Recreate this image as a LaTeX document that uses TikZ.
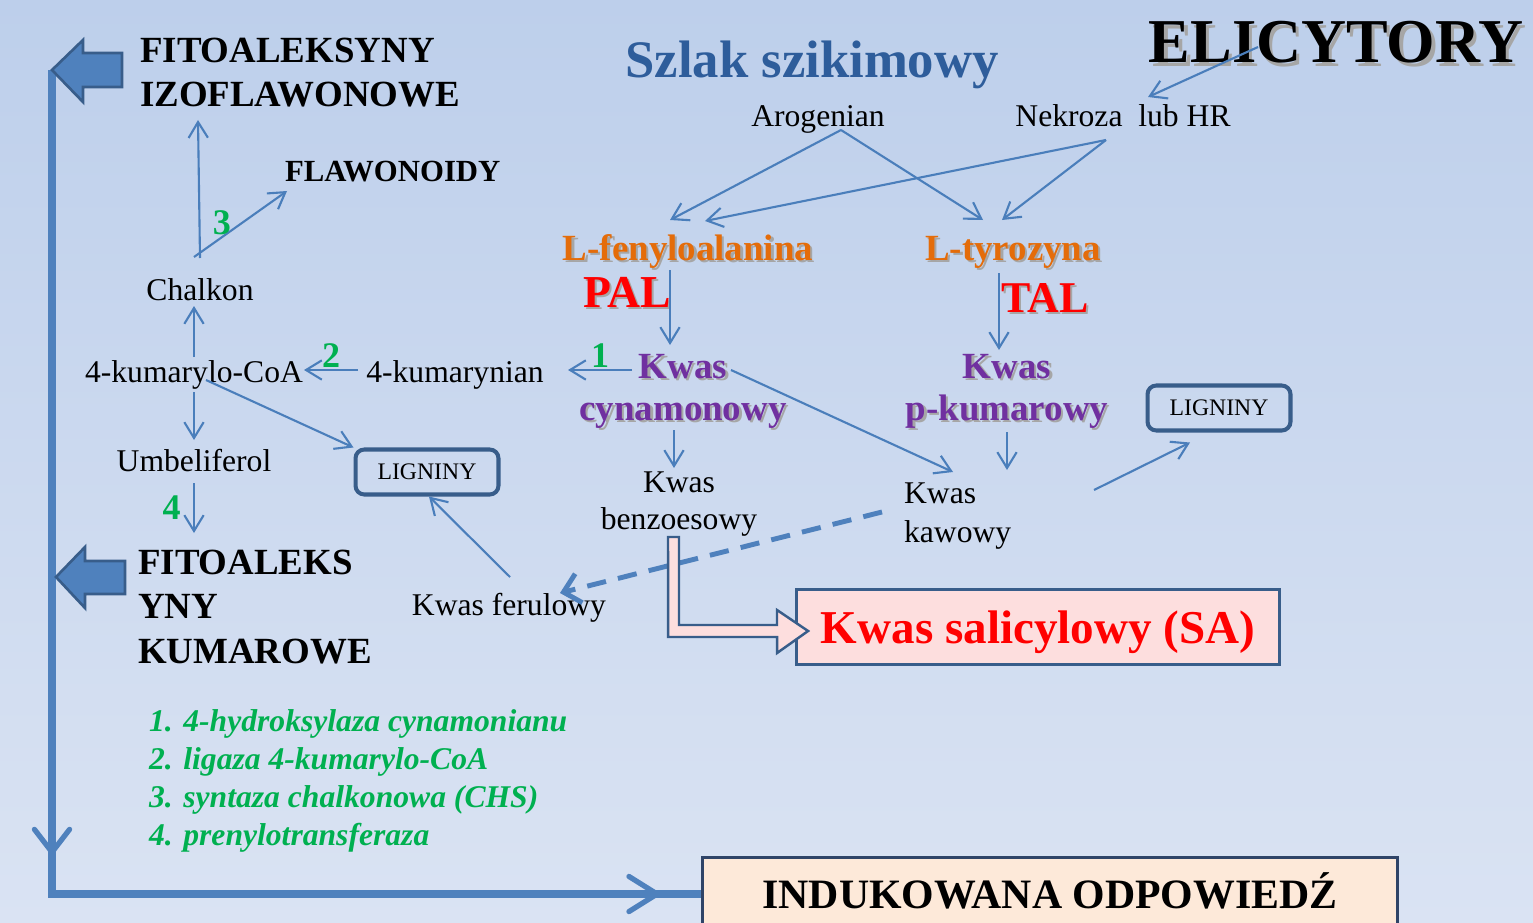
\documentclass[tikz,border=0pt]{standalone}
\usepackage{fontspec}
\setmainfont{Liberation Serif}
\usetikzlibrary{arrows.meta,decorations.markings}

\definecolor{linkblue}{RGB}{74,126,187}
\definecolor{barblue}{RGB}{79,129,189}
\definecolor{edgeblue}{RGB}{56,93,138}
\definecolor{deepnavy}{RGB}{47,68,104}
\definecolor{titleblue}{RGB}{46,93,155}
\definecolor{enzgreen}{RGB}{0,176,80}
\definecolor{aminoorange}{RGB}{228,108,10}
\definecolor{acidpurple}{RGB}{112,48,160}
\definecolor{sapink}{RGB}{253,222,222}
\definecolor{respeach}{RGB}{253,233,217}
\definecolor{bgtop}{RGB}{189,207,235}
\definecolor{bgbottom}{RGB}{218,227,243}

\newcommand\shtxt[2][1.3pt]{\leavevmode\rlap{\kern#1\raisebox{-#1}{\textcolor{black!35}{#2}}}#2}

\begin{document}
\begin{tikzpicture}[x=0.02cm, y=-0.02cm,
	conn/.style={draw=linkblue, line width=1.2pt, -{Straight Barb[length=9pt,width=11pt]}},
	dashconn/.style={draw=barblue, line width=2.8pt, dash pattern=on 11pt off 7pt, -{Straight Barb[length=9pt,width=17pt]}},
	bigline/.style={draw=barblue, line width=4.6pt,
		decoration={markings,
			mark=at position 15.7cm with {\arrow{Straight Barb[length=13pt,width=20pt,line width=3pt,round]}},
			mark=at position 28.64cm with {\arrow{Straight Barb[length=16pt,width=20pt,line width=3pt,round]}}},
		postaction={decorate}},
	blockarr/.style={fill=barblue, draw=edgeblue, line width=1.5pt},
	hollow/.style={fill=sapink, draw=edgeblue, line width=1.4pt},
	txt/.style={font=\fontsize{18}{21}\selectfont, inner sep=1pt},
	heavy/.style={font=\bfseries\fontsize{21}{25.2}\selectfont, inner sep=1pt},
	enzyme/.style={text=enzgreen, font=\bfseries\fontsize{20.5}{22}\selectfont, inner sep=1pt},
	amino/.style={text=aminoorange, font=\bfseries\fontsize{21}{25}\selectfont, inner sep=1pt},
	acid/.style={text=acidpurple, font=\bfseries\fontsize{21}{23.8}\selectfont, align=center, inner sep=1pt},
	ligbox/.style={draw=edgeblue, line width=2.3pt, rounded corners=5pt, minimum width=2.86cm, minimum height=0.9cm, font=\fontsize{13.5}{16}\selectfont},
	enzlist/.style={text=enzgreen, font=\bfseries\itshape\fontsize{18}{21.5}\selectfont, inner sep=1pt}]

	\useasboundingbox (0,0) rectangle (1533,922);
	\shade[top color=bgtop, bottom color=bgbottom] (0,0) rectangle (1533,922);

	% lewa kolumna
	\node[heavy, anchor=base west, align=left] (izo) at (138,107) {FITOALEKSYNY\\IZOFLAWONOWE};
	\node[heavy, font=\bfseries\fontsize{17.5}{21}\selectfont, anchor=base west] (flav) at (283,182) {FLAWONOIDY};
	\node[txt, anchor=base] (chalk) at (200,300) {Chalkon};
	\node[txt, anchor=base] (coa) at (194,382) {4-kumarylo-CoA};
	\node[txt, anchor=base] (kumn) at (455,382) {4-kumarynian};
	\node[txt, anchor=base] (umb) at (194,471) {Umbeliferol};
	\node[heavy, anchor=base west, align=left] (kum) at (136,663) {FITOALEKS\\YNY\\KUMAROWE};
	\node[ligbox] (lig1) at (427,472) {LIGNINY};
	\node[txt, anchor=base] (fer) at (509,615) {Kwas ferulowy};

	% szlak szikimowy
	\node[anchor=base, text=titleblue, font=\bfseries\fontsize{30}{36}\selectfont] (szlak) at (812,78) {Szlak szikimowy};
	\node[anchor=base, font=\bfseries\fontsize{35.5}{40}\selectfont] (elic) at (1336,63) {\shtxt[2pt]{ELICYTORY}};
	\node[txt, anchor=base] (arog) at (818,127) {Arogenian};
	\node[txt, anchor=base] (nek) at (1123,127) {Nekroza\ \ lub HR};
	\node[amino, anchor=base] (lfen) at (688,260) {\shtxt{L-fenyloalanina}};
	\node[amino, anchor=base] (ltyr) at (1013,260) {\shtxt{L-tyrozyna}};
	\node[anchor=base, text=red, font=\bfseries\fontsize{26}{30}\selectfont] (pal) at (627,307) {\shtxt{PAL}};
	\node[anchor=base, text=red, font=\bfseries\fontsize{25}{30}\selectfont] (tal) at (1045,312) {\shtxt{TAL}};
	\node[acid, anchor=base] (cyn) at (683,420) {\shtxt{Kwas}\\\shtxt{cynamonowy}};
	\node[acid, anchor=base] (pkum) at (1007,420) {\shtxt{Kwas}\\\shtxt{p-kumarowy}};
	\node[txt, anchor=base, align=center] (benz) at (679,529) {Kwas\\benzoesowy};
	\node[txt, font=\fontsize{18}{22}\selectfont, anchor=base west, align=left] (kaw) at (902,542) {Kwas\\kawowy};
	\node[ligbox] (lig2) at (1219,408) {LIGNINY};
	\node[draw=edgeblue, line width=1.7pt, fill=sapink, minimum width=9.66cm, minimum height=1.5cm, text depth=0pt,
		text=red, font=\bfseries\fontsize{26.8}{30}\selectfont] (sa) at (1038,627) {Kwas salicylowy (SA)};
	\node[draw=deepnavy, line width=1.7pt, fill=respeach, minimum width=13.9cm, minimum height=1.48cm, text height=16pt, text depth=0pt,
		font=\bfseries\fontsize{23.8}{28}\selectfont] (ind) at (1050,894) {INDUKOWANA ODPOWIEDŹ};

	\node[enzlist, anchor=base west, align=left] (enz) at (147,845)
		{1. 4-hydroksylaza cynamonianu\\2. ligaza 4-kumarylo-CoA\\3. syntaza chalkonowa (CHS)\\4. prenylotransferaza};

	% duza strzalka
	\coordinate (top) at (52,70);
	\coordinate (corner) at (52,894);
	\coordinate (mid) at (56,577);
	\draw[bigline] (top) -- (corner) -- (ind.west);
	\draw[blockarr] (top) -- ++(31,-30) -- ++(0,13) -- ++(39,0) -- ++(0,34) -- ++(-39,0) -- ++(0,15) -- cycle;
	\draw[blockarr] (mid) -- ++(29,-30) -- ++(0,14) -- ++(40,0) -- ++(0,33) -- ++(-40,0) -- ++(0,14) -- cycle;

	% polaczenia
	\draw[conn] ([shift={(0,-42)}]chalk.base) -- ([shift={(60,13)}]izo.base west);
	\draw[conn] ([shift={(-6,-43)}]chalk.base) -- node[enzyme, pos=0.3, above] (e3) {3} ([shift={(4,9)}]flav.base west);
	\draw[conn] ([shift={(0,-25)}]coa.base) -- ([shift={(-6,6)}]chalk.base);
	\draw[conn] ([shift={(0,10)}]coa.base) -- ([shift={(0,-31)}]umb.base);
	\draw[conn] ([shift={(12,-2)}]coa.base) -- (lig1.north west);
	\draw[conn] ([shift={(-97,-12)}]kumn.base) -- node[enzyme, above] (e2) {2} ([shift={(110,-12)}]coa.base);
	\draw[conn] ([shift={(0,12)}]umb.base) -- node[enzyme, left=6pt] (e4) {4} ([shift={(58,-130)}]kum.base west);
	\draw[conn] ([shift={(1,-38)}]fer.base) -- ([shift={(2,0)}]lig1.south);
	\draw[conn] ([shift={(-51,-50)}]cyn.base) -- node[enzyme, above] (e1) {1} ([shift={(113,-12)}]kumn.base);
	\draw[conn] ([shift={(48,-50)}]cyn.base) -- ([shift={(51,-70)}]kaw.base west);
	\draw[conn] ([shift={(-9,10)}]cyn.base) -- ([shift={(-5,-61)}]benz.base);
	\draw[conn] ([shift={(0,12)}]pkum.base) -- ([shift={(105,-72)}]kaw.base west);
	\draw[conn] ([shift={(192,-52)}]kaw.base west) -- ([shift={(-29,10)}]lig2.south);
	\draw[dashconn] ([shift={(-20,-30)}]kaw.base west) -- ([shift={(51,-22)}]fer.base);
	\draw[conn] ([shift={(23,3)}]arog.base) -- ([shift={(-18,-40)}]lfen.base);
	\draw[conn] ([shift={(23,3)}]arog.base) -- ([shift={(-30,-40)}]ltyr.base);
	\draw[conn] ([shift={(-17,13)}]nek.base) -- ([shift={(17,-39)}]lfen.base);
	\draw[conn] ([shift={(-17,13)}]nek.base) -- ([shift={(-11,-40)}]ltyr.base);
	\draw[conn] ([shift={(-78,-16)}]elic.base) -- ([shift={(25,-30)}]nek.base);
	\draw[conn] ([shift={(-18,10)}]lfen.base) -- ([shift={(-13,-75)}]cyn.base);
	\draw[conn] ([shift={(-14,13)}]ltyr.base) -- ([shift={(-8,-70)}]pkum.base);
	\draw[hollow] ([shift={(-11,8)}]benz.base) -- ++(11,0) -- ++(0,88) -- ++(98,0) -- ++(0,-15)
		-- ([shift={(13,4)}]sa.west) -- ++(-31,22) -- ++(0,-16) -- ++(-109,0) -- cycle;
\end{tikzpicture}
\end{document}
